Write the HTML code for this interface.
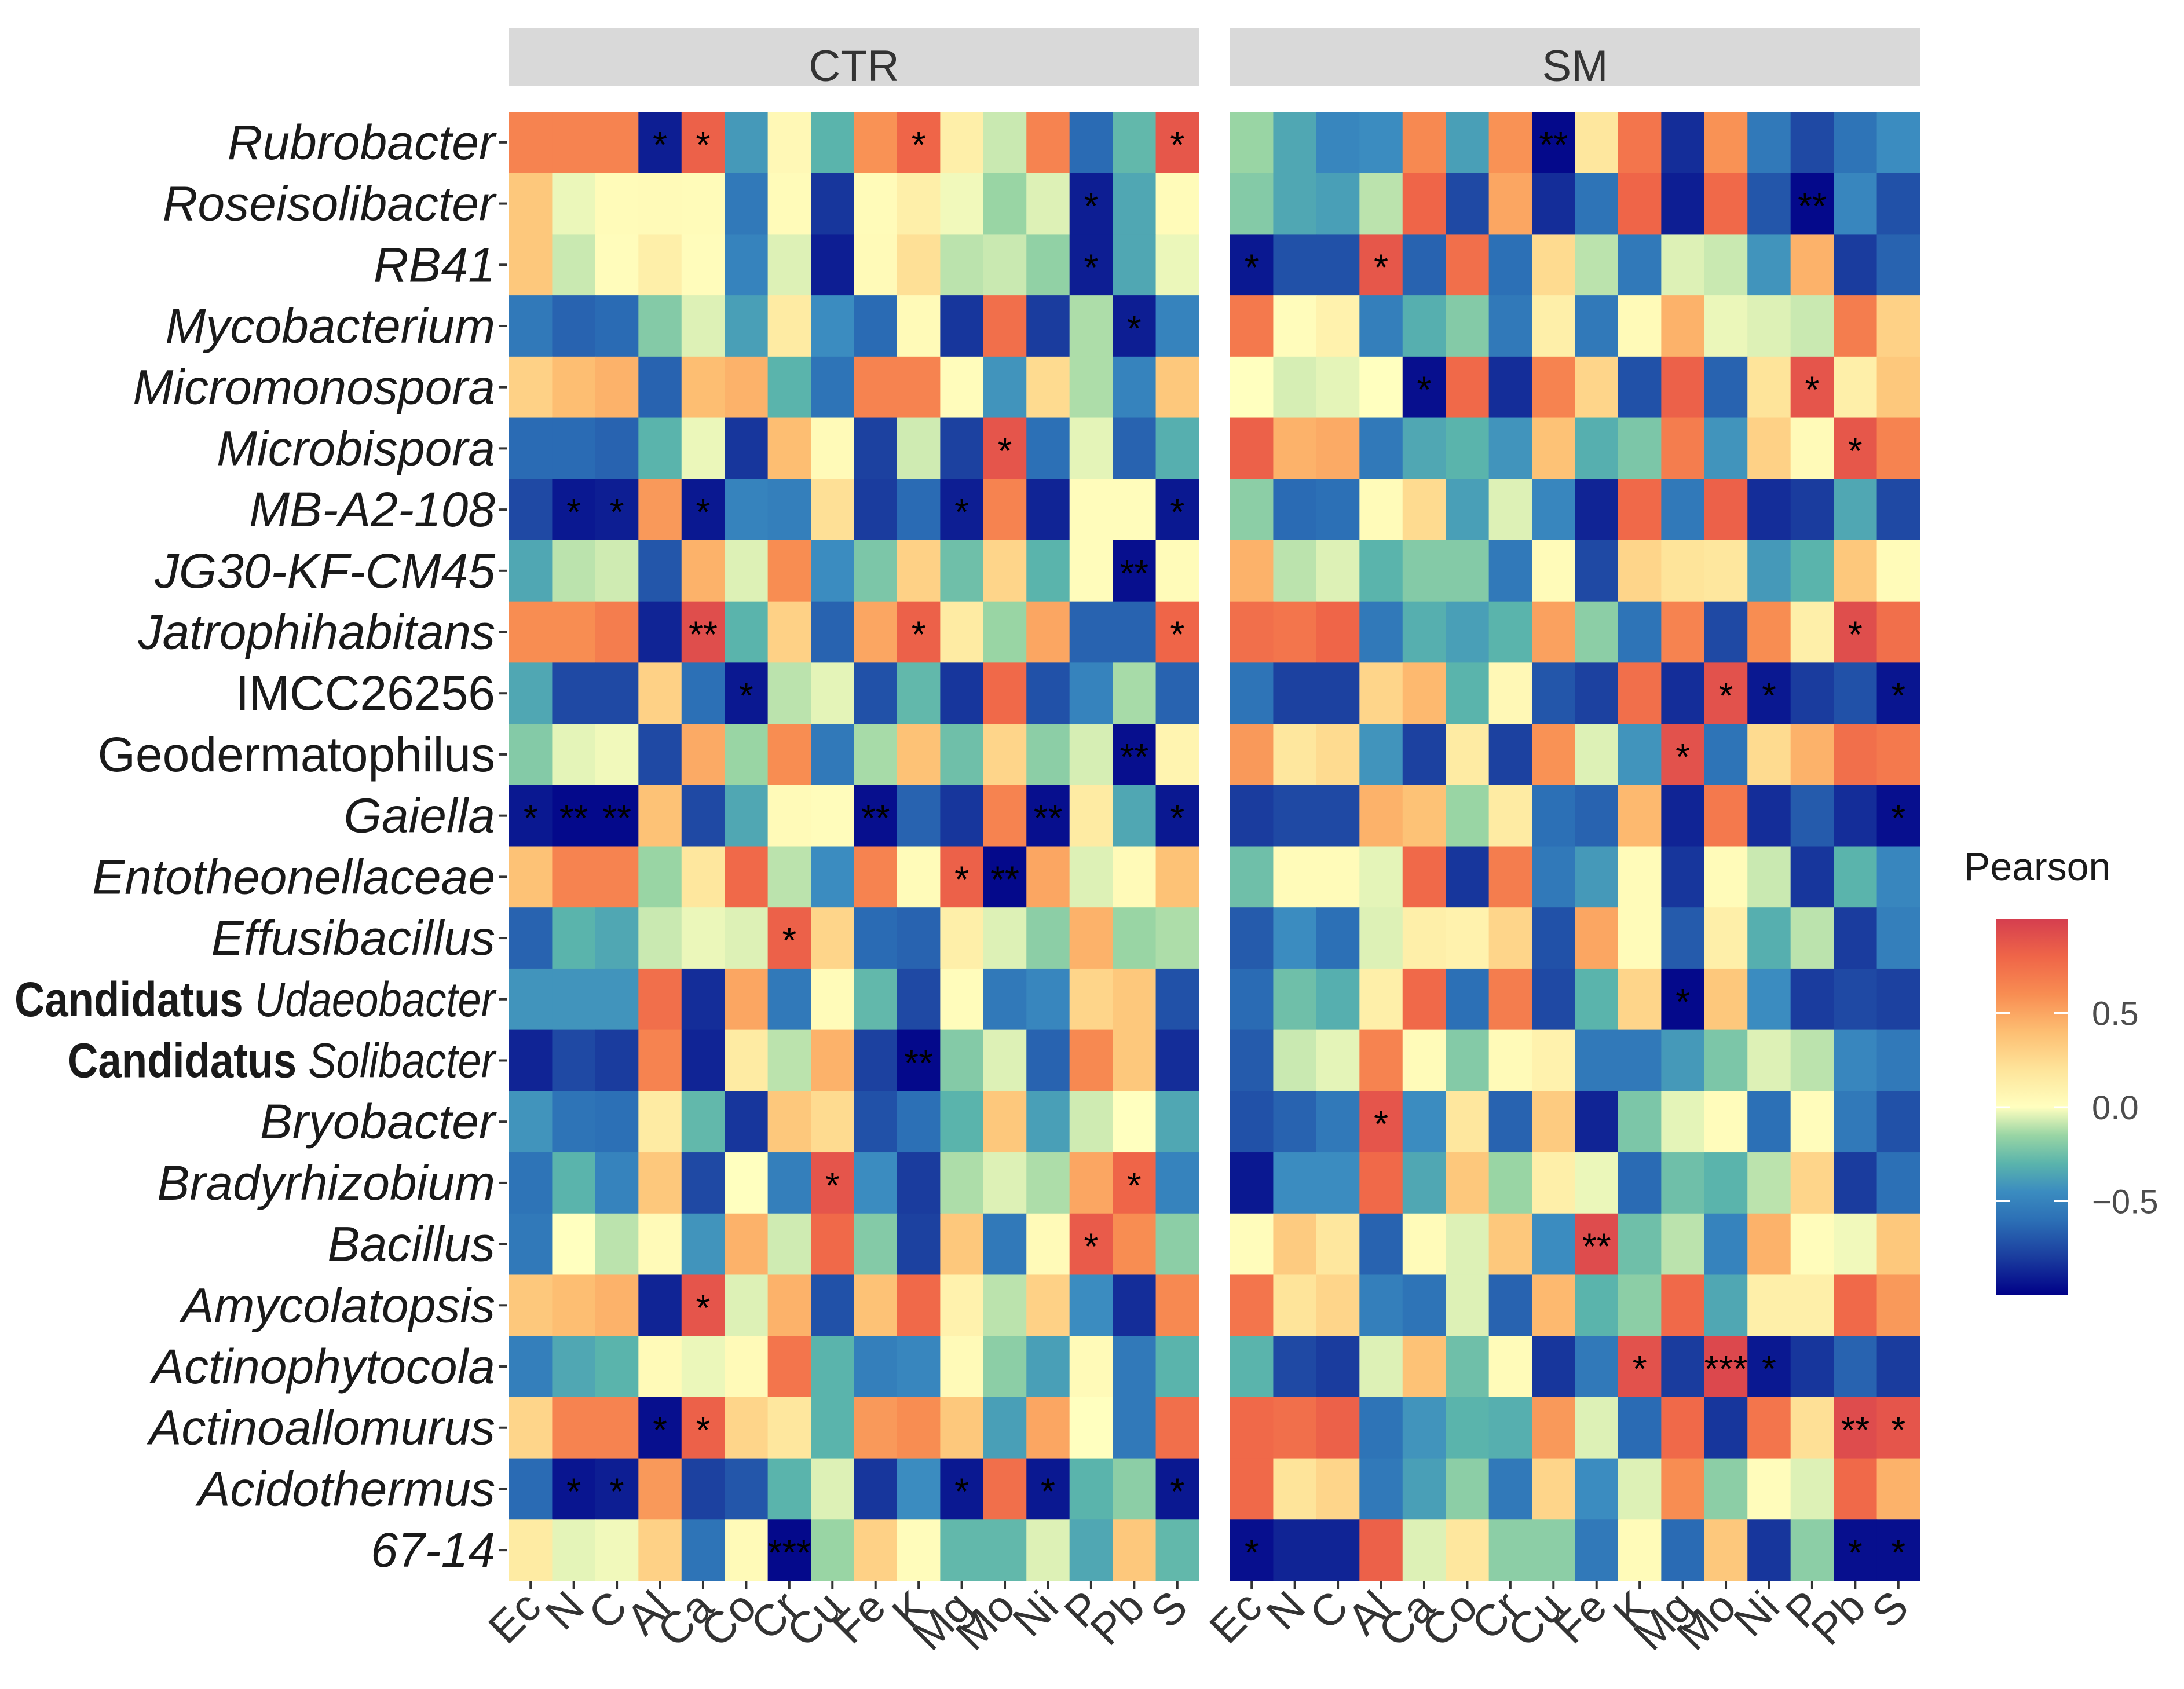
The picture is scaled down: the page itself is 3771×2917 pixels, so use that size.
<!DOCTYPE html>
<html><head><meta charset="utf-8">
<style>
html,body{margin:0;padding:0;background:#fff;}
svg{display:block;}
text{font-family:"Liberation Sans",sans-serif;}
</style></head>
<body>
<svg id="chart" width="3771" height="2917" viewBox="0 0 3771 2917" xmlns="http://www.w3.org/2000/svg">
<rect width="3771" height="2917" fill="#fff"/>
</svg>
<script>
const columns = ["Ec","N","C","Al","Ca","Co","Cr","Cu","Fe","K","Mg","Mo","Ni","P","Pb","S"];
const genera = ["Rubrobacter","Roseisolibacter","RB41","Mycobacterium","Micromonospora","Microbispora","MB-A2-108","JG30-KF-CM45","Jatrophihabitans","IMCC26256","Geodermatophilus","Gaiella","Entotheonellaceae","Effusibacillus","Candidatus Udaeobacter","Candidatus Solibacter","Bryobacter","Bradyrhizobium","Bacillus","Amycolatopsis","Actinophytocola","Actinoallomurus","Acidothermus","67-14"];
const panels = ["CTR","SM"];
const legendTicks = [0.5, 0.0, -0.5];
const legendTickLabels = ["0.5","0.0","\u22120.5"];

const ctrValues = [
[.65,.65,.65,-.9,.82,-.4,.05,-.3,.58,.8,.12,-.08,.65,-.62,-.28,.87],
[.35,-.03,.03,.04,.03,-.55,.03,-.82,.03,.12,-.02,-.15,-.05,-.9,-.35,.03],
[.35,-.08,.02,.12,.02,-.5,-.05,-.9,.04,.22,-.1,-.08,-.17,-.9,-.35,-.03],
[-.55,-.65,-.62,-.2,-.05,-.38,.15,-.45,-.62,.04,-.82,.75,-.8,-.12,-.9,-.5],
[.3,.4,.45,-.65,.4,.45,-.3,-.58,.65,.65,.02,-.42,.25,-.12,-.5,.35],
[-.62,-.62,-.65,-.3,-.03,-.82,.4,.04,-.78,-.07,-.78,.88,-.6,-.04,-.65,-.32],
[-.75,-.92,-.9,.55,-.92,-.5,-.52,.22,-.8,-.62,-.9,.65,-.88,.02,.02,-.92],
[-.35,-.1,-.07,-.7,.45,-.05,.6,-.45,-.22,.3,-.25,.28,-.3,.02,-.95,.03],
[.6,.6,.68,-.88,.92,-.3,.3,-.65,.5,.82,.15,-.15,.5,-.65,-.65,.8],
[-.35,-.75,-.75,.3,-.6,-.92,-.1,-.04,-.72,-.28,-.82,.78,-.72,-.5,-.13,-.65],
[-.2,-.04,-.02,-.75,.48,-.15,.6,-.55,-.13,.38,-.25,.28,-.18,-.06,-.95,.08],
[-.92,-.97,-.97,.38,-.75,-.35,.04,.02,-.95,-.65,-.82,.65,-.95,.15,-.35,-.92],
[.38,.65,.65,-.15,.18,.78,-.1,-.45,.65,.03,.82,-.97,.5,-.05,.04,.38],
[-.65,-.3,-.35,-.08,-.03,-.05,.82,.28,-.62,-.65,.12,-.05,-.18,.45,-.15,-.12],
[-.42,-.42,-.42,.75,-.85,.5,-.55,.03,-.28,-.75,.02,-.55,-.48,.28,.35,-.72],
[-.88,-.75,-.8,.65,-.88,.15,-.1,.45,-.78,-.97,-.2,-.05,-.65,.62,.35,-.85],
[-.42,-.58,-.6,.15,-.28,-.82,.35,.25,-.72,-.6,-.3,.35,-.38,-.07,0,-.35],
[-.58,-.3,-.5,.35,-.75,0,-.52,.88,-.45,-.8,-.12,-.05,-.12,.5,.8,-.5],
[-.55,0,-.1,.04,-.42,.45,-.07,.78,-.2,-.78,.35,-.55,.04,.85,.6,-.18],
[.35,.4,.45,-.88,.88,-.05,.45,-.72,.38,.78,.1,-.1,.3,-.45,-.85,.62],
[-.52,-.35,-.3,.04,-.03,.04,.72,-.3,-.52,-.48,.04,-.18,-.38,.04,-.55,-.3],
[.28,.65,.65,-.95,.82,.28,.18,-.3,.55,.6,.35,-.38,.5,0,-.55,.75],
[-.62,-.93,-.9,.55,-.78,-.7,-.3,-.05,-.82,-.45,-.92,.75,-.92,-.3,-.18,-.92],
[.15,-.04,-.02,.3,-.58,.04,-.97,-.15,.3,.02,-.28,-.28,-.05,-.35,.35,-.28]
];
const smValues = [
[-.15,-.35,-.48,-.45,.62,-.38,.58,-.97,.18,.72,-.85,.58,-.55,-.75,-.58,-.45],
[-.2,-.35,-.38,-.1,.8,-.75,.5,-.85,-.58,.8,-.9,.78,-.7,-.97,-.48,-.72],
[-.92,-.72,-.72,.87,-.65,.75,-.6,.25,-.1,-.55,-.05,-.08,-.42,.45,-.8,-.65],
[.7,.02,.1,-.52,-.32,-.2,-.55,.12,-.55,.04,.45,-.03,-.05,-.08,.68,.3],
[0,-.06,-.04,0,-.95,.78,-.85,.65,.28,-.72,.82,-.65,.2,.88,.12,.35],
[.82,.45,.48,-.55,-.35,-.3,-.42,.38,-.32,-.22,.68,-.42,.3,.04,.87,.65],
[-.18,-.62,-.6,.03,.25,-.38,-.05,-.48,-.88,.78,-.55,.82,-.85,-.8,-.35,-.75],
[.45,-.1,-.05,-.3,-.2,-.2,-.55,.03,-.75,.28,.2,.18,-.4,-.3,.35,.03],
[.75,.72,.8,-.55,-.32,-.38,-.3,.52,-.18,-.58,.65,-.75,.6,.12,.92,.75],
[-.58,-.78,-.78,.28,.42,-.3,.05,-.7,-.78,.75,-.85,.9,-.92,-.8,-.72,-.93],
[.55,.18,.25,-.42,-.78,.15,-.78,.58,-.05,-.42,.9,-.58,.25,.45,.75,.7],
[-.8,-.75,-.75,.45,.38,-.15,.15,-.6,-.65,.42,-.88,.7,-.85,-.68,-.85,-.95],
[-.25,.03,.03,-.04,.78,-.82,.68,-.55,-.4,.03,-.82,.03,-.08,-.82,-.3,-.48],
[-.68,-.45,-.6,-.05,.12,.1,.28,-.72,.5,.03,-.68,.12,-.32,-.1,-.8,-.52],
[-.62,-.25,-.32,.12,.78,-.6,.68,-.75,-.3,.28,-.97,.35,-.45,-.8,-.75,-.78],
[-.68,-.08,-.04,.65,.03,-.2,.04,.1,-.55,-.55,-.4,-.22,-.05,-.1,-.48,-.55],
[-.72,-.65,-.55,.88,-.45,.18,-.65,.33,-.88,-.22,-.04,.02,-.6,.02,-.55,-.72],
[-.92,-.45,-.45,.78,-.35,.35,-.15,.12,-.03,-.62,-.25,-.3,-.1,.28,-.8,-.6],
[.02,.33,.18,-.65,.03,-.05,.35,-.45,.93,-.25,-.1,-.5,.45,.02,-.02,.35],
[.72,.2,.28,-.52,-.58,-.05,-.65,.42,-.3,-.18,.78,-.35,.12,.12,.78,.55],
[-.3,-.75,-.8,-.05,.38,-.25,.03,-.82,-.55,.9,-.8,.95,-.92,-.82,-.65,-.8],
[.78,.75,.82,-.58,-.42,-.3,-.32,.55,-.05,-.62,.78,-.82,.72,.22,.93,.88],
[.78,.2,.28,-.55,-.38,-.18,-.55,.28,-.45,-.05,.6,-.18,.02,-.05,.78,.45],
[-.95,-.88,-.88,.82,-.05,.18,-.18,-.18,-.55,.03,-.62,.35,-.82,-.18,-.95,-.95]
];
const ctrStars = ["0001100001000001","0000000000000100","0000000000000100","0000000000000010","0000000000000000","0000000000010000","0110100000100001","0000000000000020","0000200001000001","0000010000000000","0000000000000020","1220000020002001","0000000000120000","0000001000000000","0000000000000000","0000000002000000","0000000000000000","0000000100000010","0000000000000100","0000100000000000","0000000000000000","0001100000000000","0110000000101001","0000003000000000"];
const smStars = ["0000000200000000","0000000000000200","1001000000000000","0000000000000000","0000100000000100","0000000000000010","0000000000000000","0000000000000000","0000000000000010","0000000000011001","0000000000100000","0000000000000001","0000000000000000","0000000000000000","0000000000100000","0000000000000000","0001000000000000","0000000000000000","0000000020000000","0000000000000000","0000000001031000","0000000000000021","0000000000000000","1000000000000011"];

const NS="http://www.w3.org/2000/svg";
const svgRoot=document.getElementById('chart');
function mk(tag,attrs,parent){const e=document.createElementNS(NS,tag);for(const k in attrs)e.setAttribute(k,attrs[k]);(parent||svgRoot).appendChild(e);return e;}

const stops=[[-1,[0,0,136]],[-.8,[26,60,158]],[-.6,[44,112,182]],[-.45,[59,140,192]],[-.3,[90,180,172]],[-.15,[153,213,164]],[0,[255,255,191]],[.2,[254,228,154]],[.4,[253,190,114]],[.6,[248,141,82]],[.8,[239,101,72]],[1,[213,62,79]]];
function color(v){v=Math.max(-1,Math.min(1,v));for(let i=1;i<stops.length;i++){if(v<=stops[i][0]){const a=stops[i-1],b=stops[i];const t=(v-a[0])/(b[0]-a[0]);const c=a[1].map((x,j)=>Math.round(x+(b[1][j]-x)*t));return `rgb(${c[0]},${c[1]},${c[2]})`;}}return 'rgb(213,62,79)';}

const panelX=[879,2124], panelW=1191, gridTop=193, gridBottom=2730;
const colW=panelW/columns.length, rowH=(gridBottom-gridTop)/genera.length;
function xPos(p,c){return panelX[p]+c*colW;}
function yPos(r){return gridTop+r*rowH;}

const allVals=[ctrValues,smValues], allStars=[ctrStars,smStars];
panels.forEach((name,p)=>{
  const g=mk('g',{});
  
  
  const strip=mk('rect',{x:panelX[p],y:48,width:panelW,height:101,fill:'#d9d9d9'},g);
  
  
  const st=mk('text',{x:panelX[p]+panelW/2,y:140,'font-size':76,fill:'#333','text-anchor':'middle'},g);
  st.textContent=name;
  
  
  genera.forEach((gn,r)=>{columns.forEach((cn,c)=>{
    const v=allVals[p][r][c];
    const cell=mk('rect',{x:xPos(p,c),y:yPos(r),width:colW+0.6,height:rowH+0.6,fill:color(v)},g);
    
    
    const n=+allStars[p][r][c];
    if(n>0){
      const t=mk('text',{x:xPos(p,c)+colW/2,y:yPos(r)+rowH/2+26,'font-size':64,fill:'#000','text-anchor':'middle'},g);
      t.textContent='*'.repeat(n);
      
      
    }
  });});
  columns.forEach((cn,c)=>{
    const cx=xPos(p,c)+colW/2;
    mk('line',{x1:cx,y1:gridBottom,x2:cx,y2:gridBottom+14,stroke:'#333','stroke-width':4},g);
    const t=mk('text',{x:0,y:0,'font-size':76,fill:'#333','text-anchor':'end',transform:`translate(${cx+22},${gridBottom+50}) rotate(-45)`},g);
    t.textContent=cn;
    
    
  });
});

genera.forEach((gn,r)=>{
  const cy=yPos(r)+rowH/2;
  mk('line',{x1:862,y1:cy,x2:876,y2:cy,stroke:'#333','stroke-width':4});
  const t=mk('text',{x:855,y:cy+29,'font-size':84,fill:'#1a1a1a','text-anchor':'end'});
  
  
  if(gn.startsWith('Candidatus ')){
    const a=mk('tspan',{'font-weight':'bold'},t);a.textContent='Candidatus ';
    const b=mk('tspan',{'font-style':'italic'},t);b.textContent=gn.slice(11);
    t.setAttribute('textLength', gn.endsWith('Udaeobacter') ? 830 : 738);
    t.setAttribute('lengthAdjust','spacingAndGlyphs');
  } else {
    if(gn!=='IMCC26256' && gn!=='Geodermatophilus') t.setAttribute('font-style','italic');
    t.textContent=gn;
  }
});

const lg=mk('g',{});


const lt=mk('text',{x:3391,y:1520,'font-size':68,fill:'#1a1a1a'},lg);
lt.textContent='Pearson';


const defs=mk('defs',{});
const grad=mk('linearGradient',{id:'lgrad',x1:0,y1:1,x2:0,y2:0},defs);
stops.forEach(s=>mk('stop',{offset:(s[0]+1)/2,'stop-color':color(s[0])},grad));
const barTop=1587, barBot=2237, barMid=(barTop+barBot)/2;
const bar=mk('rect',{x:3446,y:barTop,width:125,height:barBot-barTop,fill:'url(#lgrad)'},lg);


legendTicks.forEach((v,i)=>{
  const y=barMid - v*(barBot-barTop)/2;
  mk('line',{x1:3446,y1:y,x2:3470,y2:y,stroke:'#fff','stroke-width':3},lg);
  mk('line',{x1:3547,y1:y,x2:3571,y2:y,stroke:'#fff','stroke-width':3},lg);
  const t=mk('text',{x:3612,y:y+21,'font-size':58,fill:'#4d4d4d'},lg);
  t.textContent=legendTickLabels[i];
  
  
});
</script>
</body></html>
